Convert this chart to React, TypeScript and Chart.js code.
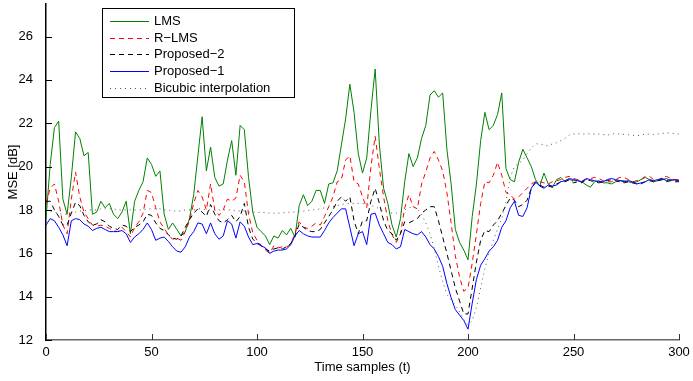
import React, { useEffect, useRef } from 'react';
import { Chart, registerables } from 'chart.js';

Chart.register(...registerables);

const timeSamples = [
  0, 2, 4, 6, 8, 10, 12, 14, 16, 18,
  20, 22, 24, 26, 28, 30, 32, 34, 36, 38,
  40, 42, 44, 46, 48, 50, 52, 54, 56, 58,
  60, 62, 64, 66, 68, 70, 72, 74, 76, 78,
  80, 82, 84, 86, 88, 90, 92, 94, 96, 98,
  100, 102, 104, 106, 108, 110, 112, 114, 116, 118,
  120, 122, 124, 126, 128, 130, 132, 134, 136, 138,
  140, 142, 144, 146, 148, 150, 152, 154, 156, 158,
  160, 162, 164, 166, 168, 170, 172, 174, 176, 178,
  180, 182, 184, 186, 188, 190, 192, 194, 196, 198,
  200, 202, 204, 206, 208, 210, 212, 214, 216, 218,
  220, 222, 224, 226, 228, 230, 232, 234, 236, 238,
  240, 242, 244, 246, 248, 250, 252, 254, 256, 258,
  260, 262, 264, 266, 268, 270, 272, 274, 276, 278,
  280, 282, 284, 286, 288, 290, 292, 294, 296, 298,
  300,
];

const lms = [
  17.6, 20.1, 21.8, 22.1, 18.5, 17.8, 19.5, 21.6, 21.3, 20.5,
  20.65, 17.8, 17.9, 18.4, 18.1, 18.3, 17.8, 17.6, 17.9, 18.4,
  16.9, 18.4, 18.9, 19.3, 20.4, 20.1, 19.55, 19.8, 17.8, 17.1,
  17.4, 17.1, 16.8, 17.0, 17.6, 18.7, 20.5, 22.3, 19.8, 20.9,
  19.5, 19.1, 19.2, 20.3, 21.2, 19.6, 21.9, 21.7, 19.5, 17.9,
  17.2, 17.0, 16.8, 16.4, 16.8, 16.7, 17.05, 16.85, 17.15, 16.75,
  18.2, 18.7, 18.2, 18.4, 18.9, 18.9, 18.3, 19.2, 19.25, 19.8,
  21.0, 22.2, 23.8, 22.5, 20.6, 19.7, 20.4, 22.6, 24.5, 21.0,
  19.0, 18.3, 17.3, 16.75, 17.6, 19.3, 20.6, 20.0, 20.4, 21.3,
  21.9, 23.3, 23.5, 23.2, 23.4, 20.8, 19.2, 17.1, 16.5, 16.15,
  15.7, 17.7, 19.2, 21.2, 22.5, 21.7, 21.9, 22.4, 23.4, 19.9,
  19.4, 19.3, 20.2, 20.8, 20.4, 20.0, 19.4, 19.1, 19.7, 19.2,
  19.05, 19.4, 19.5, 19.3, 19.4, 19.35, 19.35, 19.3, 19.15, 19.05,
  19.3, 19.35, 19.25, 19.25, 19.2, 19.3, 19.35, 19.35, 19.3, 19.25,
  19.3, 19.4, 19.5, 19.4, 19.3, 19.35, 19.4, 19.45, 19.35, 19.4,
  19.35,
];

const rlms = [
  18.3, 19.0, 19.2, 18.4, 17.3, 16.9, 18.5, 19.75, 18.6, 17.9,
  17.6, 17.3, 17.25, 17.3, 17.25, 17.15, 17.05, 17.0, 17.2, 17.0,
  16.75, 17.2, 17.45, 17.85, 18.9, 18.8, 18.1, 17.45, 17.15, 16.85,
  16.65, 16.7, 16.6, 17.0, 17.5, 18.3, 18.9, 18.6, 18.0, 19.2,
  18.0, 17.75, 18.0, 18.5, 18.4, 18.55, 19.6, 19.3, 17.8, 16.95,
  16.6, 16.35, 16.15, 16.0, 16.35, 16.25, 16.3, 16.3, 16.4, 16.95,
  17.45, 17.2, 17.15, 17.25, 17.4, 17.3, 17.7, 18.15, 18.6, 19.3,
  19.4, 20.3, 20.5, 19.3, 19.2, 18.6, 18.1, 20.0, 21.4, 19.9,
  18.6, 17.5, 16.85, 16.5, 16.9, 18.1, 18.7, 18.15, 18.05, 19.2,
  19.75, 20.4, 20.7, 20.3, 19.8, 18.8, 17.4, 15.9, 14.9, 14.25,
  14.4, 15.55, 16.9, 18.3, 19.3, 19.25, 19.6, 20.2, 19.6, 18.8,
  18.7, 18.5, 18.6, 18.8, 19.0, 19.2, 19.3, 19.3, 19.25, 19.2,
  19.3, 19.35, 19.4, 19.5, 19.55, 19.45, 19.4, 19.35, 19.4, 19.45,
  19.5, 19.45, 19.35, 19.3, 19.3, 19.4, 19.5, 19.5, 19.4, 19.3,
  19.35, 19.4, 19.55, 19.55, 19.4, 19.35, 19.5, 19.55, 19.45, 19.4,
  19.4,
];

const proposed2 = [
  18.4, 18.4, 18.0, 17.7, 17.3, 17.3, 17.85, 18.35, 18.2, 17.75,
  17.45, 17.3, 17.35, 17.55, 17.45, 17.25, 17.15, 17.1, 17.3, 17.25,
  17.0, 17.2, 17.3, 17.45, 17.8, 17.75, 17.4, 17.15, 17.05, 16.85,
  16.7, 16.65, 16.8, 17.2, 17.55, 17.85, 18.05, 17.9, 17.7, 18.25,
  17.8, 17.5, 17.4, 17.55, 17.75, 17.45, 17.7, 18.3, 17.2, 16.65,
  16.5, 16.35, 16.2, 16.1, 16.2, 16.25, 16.2, 16.3, 16.45, 16.8,
  17.35, 17.2, 17.05, 17.0, 17.0, 17.1, 17.4, 17.7, 18.0, 18.4,
  18.6, 18.4, 18.6, 17.5, 16.9, 17.5, 17.5, 18.4, 19.0, 18.3,
  17.5, 17.05, 16.9, 16.6, 16.9, 17.45, 17.4, 17.5, 17.6, 17.85,
  18.0, 18.15, 18.15, 17.5, 16.75, 16.0, 15.2, 14.4, 13.8, 13.2,
  13.2, 14.4, 15.6, 16.6, 17.05, 17.0, 17.3, 17.5, 17.85, 18.2,
  18.55, 18.45, 18.15, 18.25, 18.45, 19.0, 19.25, 19.15, 19.05, 19.1,
  19.05, 19.2, 19.3, 19.3, 19.4, 19.25, 19.3, 19.25, 19.4, 19.35,
  19.3, 19.25, 19.3, 19.35, 19.4, 19.35, 19.3, 19.25, 19.3, 19.25,
  19.2, 19.2, 19.3, 19.35, 19.3, 19.35, 19.4, 19.3, 19.35, 19.3,
  19.3,
];

const proposed1 = [
  17.3, 17.6, 17.5, 17.2, 16.85, 16.35, 17.5, 17.6, 17.55, 17.35,
  17.25, 17.05, 17.15, 17.2, 17.1, 17.0, 17.0, 17.0, 17.05, 16.9,
  16.5, 16.75, 16.9, 17.1, 17.4, 17.1, 16.6, 16.7, 16.75, 16.55,
  16.3, 16.1, 16.05, 16.3, 16.75, 17.0, 17.4, 17.35, 16.9, 17.4,
  16.9, 16.65, 16.8, 17.5, 17.35, 16.7, 17.45, 17.25, 16.75, 16.4,
  16.45, 16.35, 16.25, 16.0, 16.1, 16.15, 16.15, 16.2, 16.4, 16.8,
  17.05, 16.9, 16.8, 16.75, 16.75, 16.75, 17.05, 17.4, 17.65, 17.85,
  18.05, 18.05, 17.2, 16.35, 16.9, 17.0, 16.4, 17.8, 17.85, 17.3,
  16.9, 16.5, 16.4, 16.2, 16.3, 17.1, 17.0, 16.9, 16.85, 17.0,
  16.75, 16.4, 16.2, 15.85, 15.4, 14.6, 13.95, 13.4, 13.15, 12.9,
  12.5, 13.7, 14.8, 15.45, 15.75, 16.1, 16.3, 16.6, 17.2, 17.5,
  18.1, 18.4, 17.75, 17.7, 18.1, 19.0, 19.3, 19.1, 19.0, 19.15,
  19.1, 19.15, 19.3, 19.35, 19.45, 19.4, 19.35, 19.3, 19.45, 19.4,
  19.35, 19.3, 19.3, 19.4, 19.45, 19.4, 19.35, 19.3, 19.35, 19.3,
  19.2, 19.25, 19.3, 19.4, 19.35, 19.4, 19.45, 19.35, 19.4, 19.38,
  19.35,
];

const bicubic = [
  18.0, 17.95, 17.9, 17.85, 17.8, 17.8, 17.85, 17.9, 17.95, 17.95,
  18.0, 18.0, 18.0, 18.05, 18.05, 18.05, 18.05, 18.0, 18.0, 18.0,
  18.0, 18.0, 18.0, 18.0, 18.05, 18.05, 18.05, 18.05, 18.0, 18.0,
  17.95, 17.95, 17.95, 18.0, 18.0, 18.0, 18.05, 18.05, 18.0, 18.0,
  18.0, 18.0, 18.0, 18.0, 18.0, 17.95, 17.95, 17.95, 17.9, 17.9,
  17.9, 17.88, 17.88, 17.85, 17.85, 17.85, 17.87, 17.88, 17.9, 17.9,
  17.92, 17.95, 17.97, 18.0, 18.02, 18.05, 18.1, 18.12, 18.15, 18.2,
  18.25, 18.28, 18.3, 18.3, 18.3, 18.3, 18.25, 18.2, 18.15, 18.05,
  17.95, 17.9, 17.85, 17.85, 17.9, 18.0, 18.1, 18.15, 18.05, 17.8,
  17.4, 16.9, 16.2, 15.4, 14.7, 14.1, 13.85, 13.6, 13.3, 12.95,
  12.7, 12.9, 13.5, 14.4, 15.3, 16.0, 16.6, 17.1, 17.6, 18.4,
  19.5, 20.0, 20.15, 20.3, 20.6, 20.85, 21.05, 21.05, 21.0, 20.95,
  21.05, 21.1, 21.2, 21.3, 21.45, 21.5, 21.52, 21.5, 21.5, 21.52,
  21.5, 21.5, 21.48, 21.45, 21.5, 21.52, 21.5, 21.48, 21.47, 21.45,
  21.42, 21.45, 21.5, 21.5, 21.48, 21.5, 21.53, 21.55, 21.55, 21.52,
  21.5,
];

const xTicks = [0, 50, 100, 150, 200, 250, 300];
const yTicks = [12, 14, 16, 18, 20, 22, 24, 26];

const seriesNames = ['LMS', 'R\u2212LMS', 'Proposed\u22122', 'Proposed\u22121', 'Bicubic interpolation'];
const seriesValues = [lms, rlms, proposed2, proposed1, bicubic];
const seriesColors = ['#008000', '#ff0000', '#000000', '#0000ff', '#555555'];
const seriesDash: number[][] = [[], [5, 4], [5, 4], [], [1, 4]];

const FONT = '"Liberation Sans", Arial, Helvetica, sans-serif';

const decorPlugin = {
  id: 'decor',
  afterDraw(chart: any) {
    const ctx = chart.ctx as CanvasRenderingContext2D;
    const xs = chart.scales.x;
    const ys = chart.scales.y;
    const { left, bottom } = chart.chartArea;
    ctx.save();
    ctx.lineWidth = 1;
    ctx.setLineDash([]);
    ctx.strokeStyle = '#000';
    yTicks.forEach((v) => {
      const py = Math.round(ys.getPixelForValue(v)) + 0.5;
      ctx.beginPath();
      ctx.moveTo(left, py);
      ctx.lineTo(left + 6, py);
      ctx.stroke();
    });
    ctx.strokeStyle = '#333';
    xTicks.forEach((v) => {
      const px = Math.round(xs.getPixelForValue(v)) + 0.5;
      ctx.beginPath();
      ctx.moveTo(px, bottom);
      ctx.lineTo(px, bottom - 6);
      ctx.stroke();
    });

    // legend box
    const bx = 102.5, by = 8.5, bw = 192, bh = 89;
    ctx.fillStyle = '#fff';
    ctx.fillRect(bx, by, bw, bh);
    ctx.strokeStyle = '#000';
    ctx.lineWidth = 1;
    ctx.strokeRect(bx, by, bw, bh);
    ctx.font = `13px ${FONT}`;
    ctx.textBaseline = 'middle';
    ctx.textAlign = 'left';
    seriesNames.forEach((name, i) => {
      const y = Math.round(21 + i * 16.7) + 0.5;
      ctx.strokeStyle = seriesColors[i];
      ctx.lineWidth = 1;
      ctx.setLineDash(seriesDash[i]);
      ctx.beginPath();
      ctx.moveTo(110, y);
      ctx.lineTo(149, y);
      ctx.stroke();
      ctx.setLineDash([]);
      ctx.fillStyle = '#000';
      ctx.fillText(name, 154, y);
    });
    ctx.restore();
  },
};

export default function App() {
  const ref = useRef<HTMLCanvasElement | null>(null);

  useEffect(() => {
    if (!ref.current) return;
    const datasets = seriesValues.map((vals, i) => ({
      label: seriesNames[i],
      data: timeSamples.map((t, k) => ({ x: t, y: vals[k] })),
      borderColor: seriesColors[i],
      backgroundColor: seriesColors[i],
      borderWidth: 1,
      borderDash: seriesDash[i],
      pointRadius: 0,
      tension: 0,
      fill: false,
      order: 5 - i,
    }));
    const chart = new Chart(ref.current, {
      type: 'line',
      data: { datasets },
      options: {
        animation: false,
        responsive: false,
        devicePixelRatio: 1,
        parsing: false,
        layout: { padding: { top: 4, right: 14, left: 0, bottom: 0 } },
        plugins: { legend: { display: false }, tooltip: { enabled: false } },
        scales: {
          x: {
            type: 'linear',
            min: 0,
            max: 300,
            afterBuildTicks: (s: any) => {
              s.ticks = xTicks.map((v) => ({ value: v }));
            },
            afterFit: (s: any) => {
              s.height = 41;
              s.paddingLeft = 0;
              s.paddingRight = 0;
            },
            ticks: {
              font: { size: 13, family: FONT },
              color: '#000',
              padding: -3,
              maxRotation: 0,
              autoSkip: false,
            },
            grid: { display: false },
            border: { display: true, color: '#666', width: 1.5 },
            title: {
              display: true,
              text: 'Time samples (t)',
              font: { size: 13, family: FONT },
              color: '#000',
              padding: { top: 0, bottom: 6 },
            },
          },
          y: {
            type: 'linear',
            min: 12,
            max: 27.5,
            afterBuildTicks: (s: any) => {
              s.ticks = yTicks.map((v) => ({ value: v }));
            },
            afterFit: (s: any) => {
              s.width = 46;
              s.paddingTop = 0;
              s.paddingBottom = 0;
            },
            ticks: {
              font: { size: 13, family: FONT },
              color: '#000',
              padding: 5,
              autoSkip: false,
            },
            grid: { display: false },
            border: { display: true, color: '#000', width: 1.5 },
            title: {
              display: true,
              text: 'MSE [dB]',
              font: { size: 13, family: FONT },
              color: '#000',
              padding: { top: 6, bottom: 0 },
            },
          },
        },
      },
      plugins: [decorPlugin],
    } as any);
    return () => chart.destroy();
  }, []);

  return (
    <div style={{ position: 'fixed', left: 0, top: 0, width: 693, height: 381, background: '#fff' }}>
      <canvas ref={ref} width={693} height={381} style={{ display: 'block' }} />
    </div>
  );
}
